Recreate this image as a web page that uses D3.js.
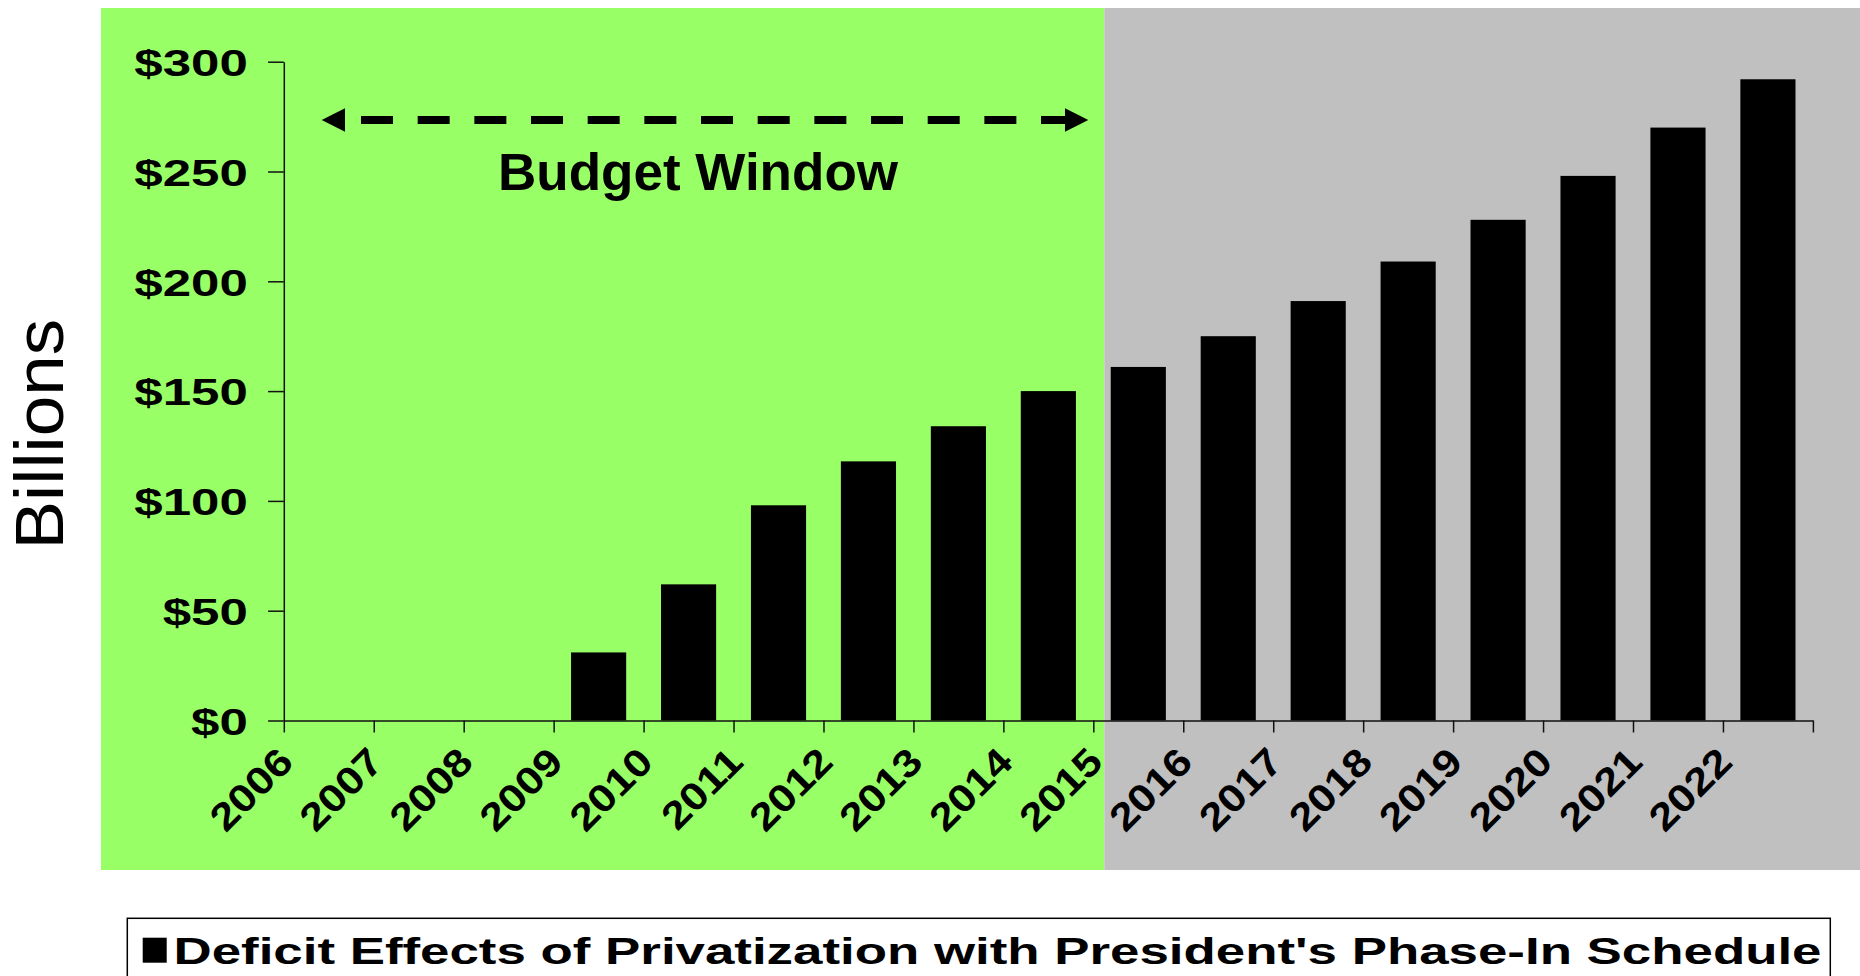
<!DOCTYPE html>
<html>
<head>
<meta charset="utf-8">
<title>Deficit Effects of Privatization</title>
<script src="https://cdn.jsdelivr.net/npm/d3@7/dist/d3.min.js"></script>
<style>
  html, body { margin: 0; padding: 0; background: #fff; }
  svg { display: block; }
  text { font-family: "Liberation Sans", Arial, Helvetica, sans-serif; fill: #000; }
</style>
</head>
<body>
<svg id="chart" width="1860" height="976"></svg>
<script>
// Fiscal years on the category axis
const years = ["2006", "2007", "2008", "2009", "2010", "2011", "2012", "2013", "2014",
               "2015", "2016", "2017", "2018", "2019", "2020", "2021", "2022"];
// Deficit effect per year, $ billions
const deficit = [0, 0, 0, 31, 62, 98, 118, 134, 150, 161, 175, 191, 209, 228, 248, 270, 292];
// Value axis ticks
const yTicks = [0, 50, 100, 150, 200, 250, 300];
const seriesName = "Deficit Effects of Privatization with President's Phase-In Schedule";
const windowLabel = "Budget Window";
const axisTitle = "Billions";

const svg = d3.select("#chart");
const W = 1860, H = 976;

// Plot geometry
const plot = { left: 283.8, right: 1812.9, top: 61.7, bottom: 720.5 };

const x = d3.scaleBand()
  .domain(years)
  .range([plot.left, plot.right])
  .paddingInner(0.387)
  .paddingOuter(0.1935);

// category boundaries (ticks sit between categories)
const xEdge = d3.scaleLinear()
  .domain([0, years.length])
  .range([plot.left, plot.right]);

const y = d3.scaleLinear()
  .domain([0, 300])
  .range([plot.bottom, plot.top]);

// Background panels: budget window (green) and beyond (gray)
const splitX = xEdge(years.indexOf("2015")) + 11;
svg.append("rect")
  .attr("x", 101).attr("y", 8)
  .attr("width", splitX - 101).attr("height", 862)
  .attr("fill", "#99ff66");
svg.append("rect")
  .attr("x", splitX).attr("y", 8)
  .attr("width", W - splitX).attr("height", 862)
  .attr("fill", "#c0c0c0");

// Bars
svg.append("g")
  .selectAll("rect")
  .data(years.map((yr, i) => ({ yr, v: deficit[i] })))
  .join("rect")
  .attr("x", d => x(d.yr))
  .attr("width", x.bandwidth())
  .attr("y", d => y(d.v))
  .attr("height", d => y(0) - y(d.v))
  .attr("fill", "#000");

// Value axis
const yAxis = svg.append("g")
  .attr("transform", `translate(${plot.left},0)`)
  .call(d3.axisLeft(y)
    .tickValues(yTicks)
    .tickSize(15.7)
    .tickSizeOuter(0)
    .tickFormat(d => "$" + d));
yAxis.select(".domain").attr("stroke", "#111").attr("stroke-width", 1.5);
yAxis.selectAll(".tick line").attr("stroke", "#111").attr("stroke-width", 1.5);
yAxis.selectAll(".tick text")
  .attr("x", 0)
  .attr("dy", "0.37em")
  .attr("text-anchor", "end")
  .attr("transform", "translate(-36,0) scale(1.36,1)")
  .style("font-size", "37.5px")
  .style("font-weight", "bold");

// Category axis
const xAxis = svg.append("g")
  .attr("transform", `translate(0,${plot.bottom})`)
  .call(d3.axisBottom(xEdge)
    .tickValues(d3.range(years.length + 1))
    .tickSize(12)
    .tickSizeOuter(0)
    .tickFormat(i => years[i] || ""));
xAxis.select(".domain").attr("stroke", "#111").attr("stroke-width", 1.5);
xAxis.selectAll(".tick line").attr("stroke", "#111").attr("stroke-width", 1.5);
xAxis.selectAll(".tick text")
  .attr("x", 0).attr("y", 0).attr("dy", null)
  .attr("text-anchor", "end")
  .attr("transform", "translate(11,43.5) rotate(-45) scale(1.15,1)")
  .style("font-size", "38.5px")
  .style("font-weight", "bold");

// Axis title
svg.append("text")
  .attr("transform", "translate(63,434.2) rotate(-90) scale(1.07,1)")
  .attr("text-anchor", "middle")
  .style("font-size", "68px")
  .text(axisTitle);

// Budget window double-headed dashed arrow
const arrowY = 120;
svg.append("line")
  .attr("x1", 361).attr("x2", 1065)
  .attr("y1", arrowY).attr("y2", arrowY)
  .attr("stroke", "#000")
  .attr("stroke-width", 8)
  .attr("stroke-dasharray", "32 24.67");
svg.append("path")
  .attr("d", `M321.7,${arrowY} L345,${arrowY - 11.7} L345,${arrowY + 11.7} Z`)
  .attr("fill", "#000");
svg.append("path")
  .attr("d", `M1088.3,${arrowY} L1065,${arrowY - 11.7} L1065,${arrowY + 11.7} Z`)
  .attr("fill", "#000");

svg.append("text")
  .attr("transform", "translate(698,190) scale(1.04,1)")
  .attr("text-anchor", "middle")
  .style("font-size", "51px")
  .style("font-weight", "bold")
  .text(windowLabel);

// Legend
const legend = svg.append("g");
legend.append("rect")
  .attr("x", 127.3).attr("y", 918.3)
  .attr("width", 1830.3 - 127.3).attr("height", 80)
  .attr("fill", "#fff")
  .attr("stroke", "#000")
  .attr("stroke-width", 1.5);
legend.append("rect")
  .attr("x", 142.7).attr("y", 937.7)
  .attr("width", 24).attr("height", 25)
  .attr("fill", "#000");
legend.append("text")
  .attr("x", 173.5).attr("y", 964)
  .attr("textLength", 1648)
  .attr("lengthAdjust", "spacingAndGlyphs")
  .style("font-size", "37.5px")
  .style("font-weight", "bold")
  .text(seriesName);
</script>
</body>
</html>
